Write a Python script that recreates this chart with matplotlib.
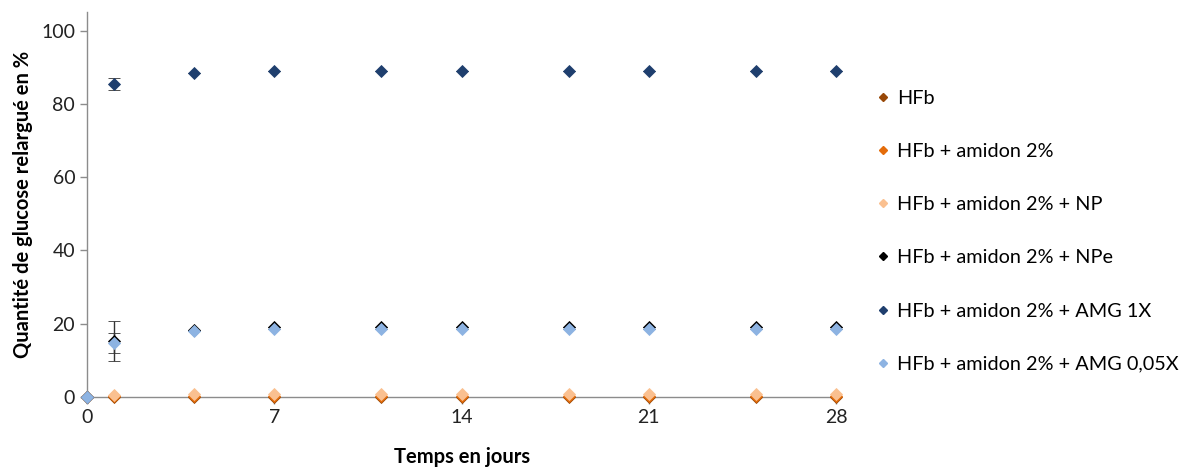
import matplotlib.pyplot as plt
from matplotlib.lines import Line2D

plt.rcParams['font.family'] = ['Lato', 'DejaVu Sans']

# Days of measurement
days = [0, 1, 4, 7, 11, 14, 18, 21, 25, 28]

# Released glucose (%) per formulation
hfb = [0, 0.1, 0.1, 0.1, 0.1, 0.1, 0.1, 0.1, 0.1, 0.1]
hfb_amidon = [0, 0.3, 0.3, 0.3, 0.3, 0.3, 0.3, 0.3, 0.3, 0.3]
hfb_np = [0, 0.6, 0.7, 0.7, 0.7, 0.7, 0.7, 0.7, 0.7, 0.7]
hfb_npe = [0, 15.3, 18.2, 19.0, 19.0, 19.0, 19.0, 19.0, 19.0, 19.0]
hfb_amg1 = [0, 85.5, 88.4, 88.9, 88.9, 88.9, 88.9, 88.9, 88.9, 88.9]
hfb_amg005 = [0, 14.7, 18.1, 18.6, 18.6, 18.6, 18.6, 18.6, 18.6, 18.6]

# Standard deviations (only visible at day 1)
err_npe = [0, 5.4, 0, 0, 0, 0, 0, 0, 0, 0]
err_amg1 = [0, 1.7, 0, 0, 0, 0, 0, 0, 0, 0]
err_amg005 = [0, 2.7, 0, 0, 0, 0, 0, 0, 0, 0]

labels = ["HFb", "HFb + amidon 2%", "HFb + amidon 2% + NP",
          "HFb + amidon 2% + NPe", "HFb + amidon 2% + AMG 1X",
          "HFb + amidon 2% + AMG 0,05X"]
colors = ["#984807", "#E46C0A", "#FAC090", "#000000", "#1F3F6E", "#8DB3E2"]

fig = plt.figure(figsize=(11.86, 4.68), dpi=100)
ax = fig.add_axes([0.0734, 0.1517, 0.6316, 0.822])

series = [hfb, hfb_amidon, hfb_np, hfb_npe, hfb_amg1, hfb_amg005]
errors = [None, None, None, err_npe, err_amg1, err_amg005]

handles = []
for vals, err, col, lab in zip(series, errors, colors, labels):
    ax.errorbar(days, vals, yerr=err, fmt='D', color=col, ecolor='#333333',
                elinewidth=1, capsize=4, capthick=1, markersize=6.5,
                markeredgewidth=0.6, markeredgecolor=col,
                clip_on=False, zorder=3)
    handles.append(Line2D([], [], ls='none', marker='D', color=col,
                          markersize=4.5, label=lab))

ax.set_xlim(0, 28)
ax.set_ylim(0, 105)
ax.set_xticks([0, 7, 14, 21, 28])
ax.set_yticks([0, 20, 40, 60, 80, 100])

for s in ['top', 'right']:
    ax.spines[s].set_visible(False)
for s in ['left', 'bottom']:
    ax.spines[s].set_color('#8C8C8C')
    ax.spines[s].set_linewidth(1)
ax.tick_params(axis='both', colors='#8C8C8C', labelcolor='#222222',
               labelsize=14, length=5, width=1)

ax.set_xlabel("Temps en jours", fontsize=14.5, fontweight='bold', labelpad=15)
ax.set_ylabel("Quantité de glucose relargué en %", fontsize=14.5,
              fontweight='bold', labelpad=6)

fig.legend(handles=handles, loc='upper left', bbox_to_anchor=(0.7255, 0.846),
           frameon=False, fontsize=14.3, handlelength=0.5,
           handletextpad=0.45, labelspacing=1.82)

fig.savefig("out.png", dpi=100)
